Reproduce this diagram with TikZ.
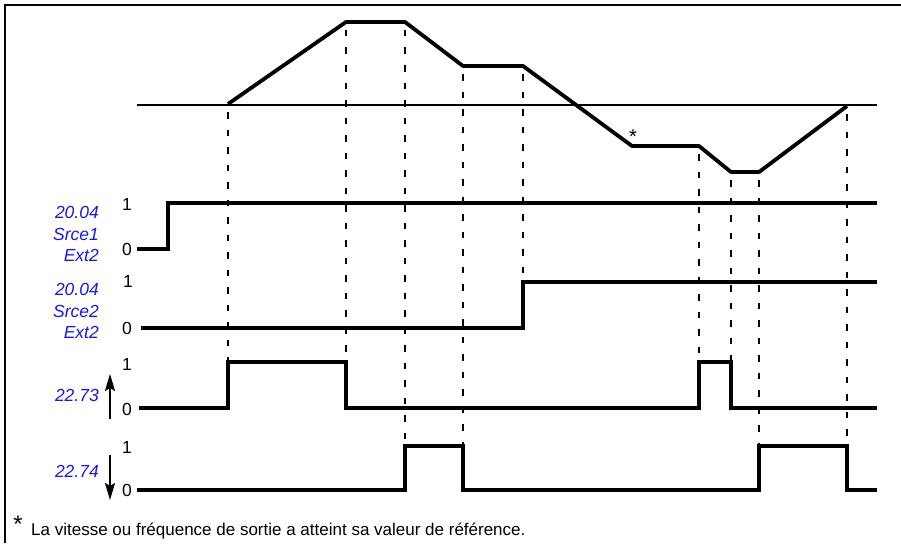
\documentclass[tikz,border=0pt]{standalone}
\usepackage{fontspec}
\setmainfont{Liberation Sans}
\usetikzlibrary{arrows.meta}
\definecolor{lblblue}{RGB}{25,25,230}
\begin{document}
\begin{tikzpicture}[x=1pt,y=-1pt,
  sig/.style={line width=3.4pt,line join=miter},
  prof/.style={line width=3.8pt,line join=round},
  refl/.style={line width=1.6pt},
  guide/.style={line width=2pt,dash pattern=on 6.5pt off 11pt,dash phase=-8pt},
  lvl/.style={font=\fontsize{17.5}{18}\selectfont,inner sep=0pt},
  tag/.style={font=\fontsize{17.5}{21.5}\selectfont\itshape,text=lblblue,inner sep=0pt,anchor=east,align=right},
  dirarrow/.style={line width=2pt,-{Stealth[length=17pt,width=10pt,inset=3pt]}}]
\useasboundingbox (0,0) rectangle (901,543);
% partial frame
\draw[line width=1.4pt] (5,543) -- (5,5) -- (901,5);
% reference level
\coordinate (rl) at (137,105);
\coordinate (rr) at (877,105);
\draw[refl] (rl) -- (rr);
% speed profile points
\coordinate (p1) at (228,104);
\coordinate (p2) at (346,22);
\coordinate (p3) at (405,22);
\coordinate (p4) at (463,66);
\coordinate (p5) at (523,66);
\coordinate (p6) at (632,146);
\coordinate (p7) at (699,146);
\coordinate (p8) at (731,172);
\coordinate (p9) at (759,172);
\coordinate (p10) at (847,106);
% signal transition feet
\coordinate (a1) at (228,408);
\coordinate (a2) at (346,408);
\coordinate (b1) at (405,490);
\coordinate (b2) at (463,490);
\coordinate (s2r) at (523,282);
\coordinate (a3) at (699,408);
\coordinate (a4) at (731,408);
\coordinate (b3) at (759,490);
\coordinate (b4) at (847,496);
% guides
\foreach \u/\v in {p1/a1,p2/a2,p3/b1,p4/b2,p5/s2r,p7/a3,p8/a4,p9/b3,p10/b4}
  \draw[guide] (\u) -- (\v);
\draw[prof] (p1) -- (p2) -- (p3) -- (p4) -- (p5) -- (p6) -- (p7) -- (p8) -- (p9) -- (p10);
\node[inner sep=0pt,font=\fontsize{20}{20}\selectfont] (star) at (633,137) {*};
% Srce1
\coordinate (s1a) at (137,249);
\coordinate (s1b) at (877,203);
\draw[sig] (s1a) -- (168,249) -- (168,203) -- (s1b);
% Srce2
\coordinate (s2a) at (141,328);
\coordinate (s2b) at (877,282);
\draw[sig] (s2a) -- (523,328) -- (s2r) -- (s2b);
% 22.73
\coordinate (t3a) at (139,408);
\coordinate (t3b) at (877,408);
\draw[sig] (t3a) -- (a1) -- (228,362) -- (346,362) -- (a2) -- (a3) -- (699,362) -- (731,362) -- (a4) -- (t3b);
% 22.74
\coordinate (t4a) at (137,490);
\coordinate (t4b) at (877,490);
\draw[sig] (t4a) -- (b1) -- (405,446) -- (463,446) -- (b2) -- (b3) -- (759,446) -- (847,446) -- (847,490) -- (t4b);
% level labels
\node[lvl] (l1a) at (127,204) {1};
\node[lvl] (l0a) at (127,249) {0};
\node[lvl] (l1b) at (128,281) {1};
\node[lvl] (l0b) at (127,328) {0};
\node[lvl] (l1c) at (127,364) {1};
\node[lvl] (l0c) at (127,409) {0};
\node[lvl] (l1d) at (127,447) {1};
\node[lvl] (l0d) at (127,490) {0};
% blue tags
\node[tag] (tg1) at (99,234) {20.04\\Srce1\\Ext2};
\node[tag] (tg2) at (99,311) {20.04\\Srce2\\Ext2};
\node[tag] (tg3) at (99,395) {22.73};
\node[tag] (tg4) at (99,471) {22.74};
% arrows
\coordinate (u0) at (110,419);
\coordinate (u1) at (110,374);
\draw[dirarrow] (u0) -- (u1);
\coordinate (d0) at (110,455);
\coordinate (d1) at (110,500);
\draw[dirarrow] (d0) -- (d1);
% footnote
\node[inner sep=0pt,font=\fontsize{24}{24}\selectfont] (fstar) at (18,524) {*};
\node[inner sep=0pt,anchor=base west,font=\fontsize{17}{18}\selectfont] (fnote) at (31,535) {La vitesse ou fréquence de sortie a atteint sa valeur de référence.};
\end{tikzpicture}
\end{document}
